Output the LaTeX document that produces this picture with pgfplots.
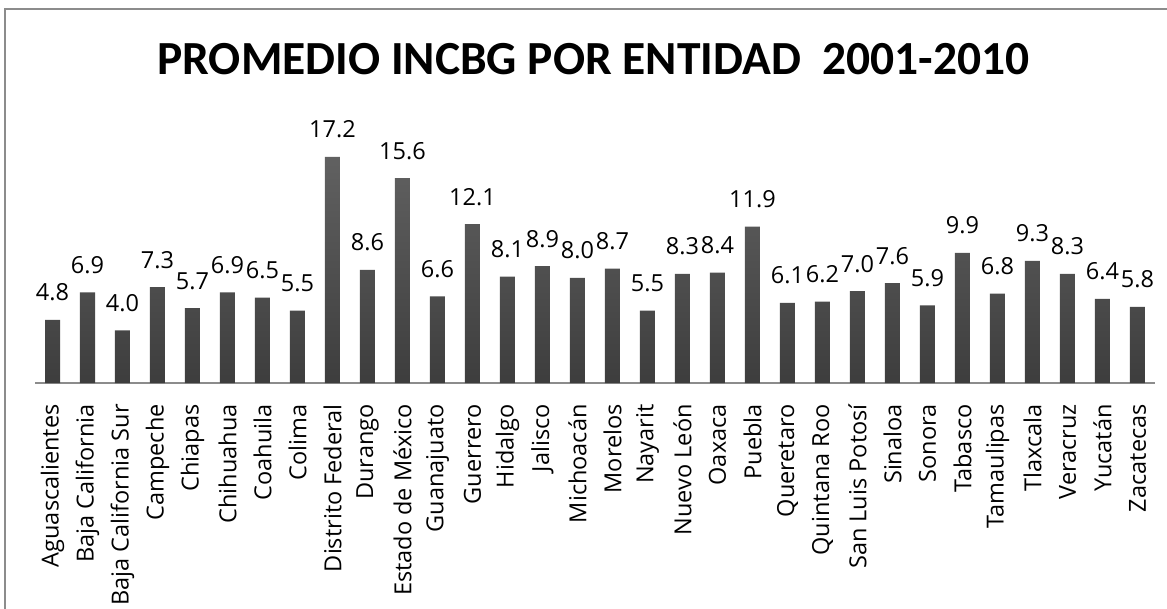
\documentclass[border=0pt]{standalone}
\usepackage{pgfplots}
\pgfplotsset{compat=1.18}
\usepackage{fontspec}
\setmainfont{Carlito}
\newfontfamily\lab{Open Sans}
\begin{document}
\begin{tikzpicture}[x=1pt,y=1pt]
\useasboundingbox (0,0) rectangle (1167,608);
\draw[black!45, line width=1.5pt] (5,-20) -- (5,599) -- (1190,599);
\node[anchor=base, inner sep=0pt, font=\fontsize{47.5}{47.5}\selectfont\bfseries] at (593.5,533) {PROMEDIO INCBG POR ENTIDAD\ \ 2001-2010};
\begin{axis}[
  at={(35pt,225pt)}, anchor=south west,
  width=1120pt, height=262.8pt, scale only axis,
  xmin=-0.5, xmax=31.5, ymin=0, ymax=20,
  axis x line=bottom, axis y line=none,
  x axis line style={-, draw=black!45, line width=1.3pt},
  xtick={0,...,31},
  xticklabels={Aguascalientes,Baja California,Baja California Sur,Campeche,Chiapas,Chihuahua,Coahuila,Colima,Distrito Federal,Durango,Estado de México,Guanajuato,Guerrero,Hidalgo,Jalisco,Michoacán,Morelos,Nayarit,Nuevo León,Oaxaca,Puebla,Queretaro,Quintana Roo,San Luis Potosí,Sinaloa,Sonora,Tabasco,Tamaulipas,Tlaxcala,Veracruz,Yucatán,Zacatecas},
  xtick style={draw=none},
  xticklabel style={rotate=90, anchor=east, inner sep=0pt, font=\lab\fontsize{23.5}{23.5}\selectfont},
  xticklabel shift=19pt,
  clip=false,
]
\addplot[ybar, bar width=15pt, draw=none, top color=black!62, bottom color=black!76,
  point meta=explicit symbolic, nodes near coords,
  every node near coord/.append style={font=\lab\fontsize{23.5}{23.5}\selectfont, anchor=base, inner sep=0pt, yshift=19pt, text=black}]
coordinates {
(0,4.8) [4.8]
(1,6.9) [6.9]
(2,4.0) [4.0]
(3,7.3) [7.3]
(4,5.7) [5.7]
(5,6.9) [6.9]
(6,6.5) [6.5]
(7,5.5) [5.5]
(8,17.2) [17.2]
(9,8.6) [8.6]
(10,15.6) [15.6]
(11,6.6) [6.6]
(12,12.1) [12.1]
(13,8.1) [8.1]
(14,8.9) [8.9]
(15,8.0) [8.0]
(16,8.7) [8.7]
(17,5.5) [5.5]
(18,8.3) [8.3]
(19,8.4) [8.4]
(20,11.9) [11.9]
(21,6.1) [6.1]
(22,6.2) [6.2]
(23,7.0) [7.0]
(24,7.6) [7.6]
(25,5.9) [5.9]
(26,9.9) [9.9]
(27,6.8) [6.8]
(28,9.3) [9.3]
(29,8.3) [8.3]
(30,6.4) [6.4]
(31,5.8) [5.8]
};
\end{axis}
\end{tikzpicture}
\end{document}
